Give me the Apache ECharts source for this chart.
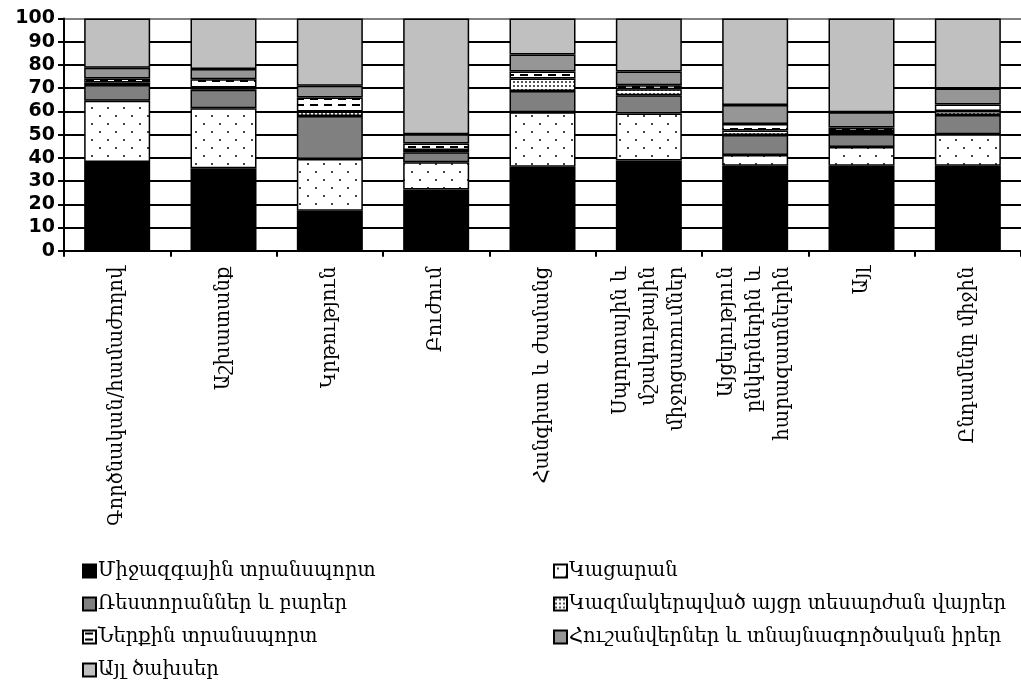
<!DOCTYPE html>
<html>
<head>
<meta charset="utf-8">
<script src="https://cdn.jsdelivr.net/npm/echarts@6/dist/echarts.min.js"></script>
<style>
html,body{margin:0;padding:0;background:#fff;}
#chart{width:1021px;height:685px;}
</style>
</head>
<body>
<div id="chart"></div>
<script>
const categories = [
  'Գործնական/համաժողով',
  'Աշխատանք',
  'Կրթություն',
  'Բուժում',
  'Հանգիստ և ժամանց',
  'Սպորտային և\nմշակութային\nմիջոցառումներ',
  'Այցելություն\nընկերներին և\nհարազատներին',
  'Այլ',
  'Ընդամենը միջին'
];
const seriesNames = [
  'Միջազգային տրանսպորտ',
  'Կացարան',
  'Ռեստորաններ և բարեր',
  'Կազմակերպված այցր տեսարժան վայրեր',
  'Ներքին տրանսպորտ',
  'Հուշանվերներ և տնայնագործական իրեր',
  'Այլ ծախսեր'
];
const intlTransport = [38.2, 35.5, 17.2, 26.4, 36.2, 38.8, 36.6, 36.6, 36.6];
const accommodation = [26.4, 25.8, 22.3, 11.7, 23.4, 20.3, 4.6, 8.1, 13.6];
const restaurants   = [6.8, 8.0, 18.5, 4.3, 9.2, 7.8, 8.6, 5.6, 8.2];
const organized     = [1.0, 1.0, 2.0, 1.0, 5.4, 2.6, 2.0, 1.2, 1.8];
const domTransport  = [1.8, 3.5, 6.0, 2.8, 3.0, 1.8, 2.8, 1.6, 2.8];
const souvenirs     = [4.6, 4.5, 5.0, 4.0, 7.3, 5.9, 8.2, 6.5, 6.8];
const otherExp      = [21.2, 21.7, 29.0, 49.8, 15.5, 22.8, 37.2, 40.4, 30.2];
const yTicks = [0, 10, 20, 30, 40, 50, 60, 70, 80, 90, 100];

function pattern(w, h, draw) {
  const c = document.createElement('canvas');
  c.width = w; c.height = h;
  const ctx = c.getContext('2d');
  ctx.fillStyle = '#fff';
  ctx.fillRect(0, 0, w, h);
  draw(ctx);
  return { image: c, repeat: 'repeat' };
}
const dotPattern = pattern(16, 16, ctx => {
  ctx.fillStyle = '#444';
  ctx.fillRect(3, 3, 2, 2);
  ctx.fillRect(11, 11, 2, 2);
});
const densePattern = pattern(4, 4, ctx => {
  ctx.fillStyle = '#555';
  ctx.fillRect(1, 1, 2, 2);
});
const dashPattern = pattern(14, 6, ctx => {
  ctx.fillStyle = '#000';
  ctx.fillRect(2, 2, 8, 2);
});

const fills = ['#000000', dotPattern, '#808080', densePattern, dashPattern, '#969696', '#c0c0c0'];
const dataArrays = [intlTransport, accommodation, restaurants, organized, domTransport, souvenirs, otherExp];

const series = seriesNames.map((name, i) => ({
  name: name,
  type: 'bar',
  stack: 'total',
  barWidth: 66,
  data: dataArrays[i],
  itemStyle: { color: fills[i], borderColor: '#000', borderWidth: 1.5 },
  emphasis: { disabled: true },
  animation: false
}));

const gridColors = yTicks.map((t, i) => i === yTicks.length - 1 ? '#808080' : '#000');
const serif = '"DejaVu Serif", serif';

const legendCommon = {
  orient: 'vertical',
  top: 560,
  padding: 0,
  itemGap: 11,
  itemWidth: 13,
  itemHeight: 13,
  icon: 'rect',
  selectedMode: false,
  textStyle: { fontFamily: serif, fontSize: 19.5, color: '#000', padding: [0, 0, 0, -3], lineHeight: 22 }
};

const chart = echarts.init(document.getElementById('chart'), null, { renderer: 'canvas' });
chart.setOption({
  animation: false,
  backgroundColor: '#fff',
  grid: { left: 64, top: 18.5, width: 960, height: 232.2, containLabel: false },
  xAxis: {
    type: 'category',
    data: categories,
    axisLine: { lineStyle: { color: '#000', width: 2 } },
    axisTick: { show: true, length: 6, lineStyle: { color: '#000', width: 2 } },
    axisLabel: {
      rotate: 90,
      interval: 0,
      margin: 16,
      fontFamily: serif,
      fontSize: 19.5,
      color: '#000',
      lineHeight: 28
    }
  },
  yAxis: {
    type: 'value',
    min: 0,
    max: 100,
    interval: 10,
    axisLine: { show: true, lineStyle: { color: '#000', width: 2 } },
    axisTick: { show: true, length: 6, lineStyle: { color: '#000', width: 2 } },
    axisLabel: {
      fontFamily: '"DejaVu Sans", sans-serif',
      fontWeight: 'bold',
      fontSize: 19,
      color: '#000',
      margin: 9
    },
    splitLine: { show: true, lineStyle: { color: gridColors, width: 2 } }
  },
  legend: [
    Object.assign({}, legendCommon, {
      data: [seriesNames[0], seriesNames[2], seriesNames[4], seriesNames[6]],
      left: 82
    }),
    Object.assign({}, legendCommon, {
      data: [seriesNames[1], seriesNames[3], seriesNames[5]],
      left: 553
    })
  ],
  series: series
});
</script>
</body>
</html>
